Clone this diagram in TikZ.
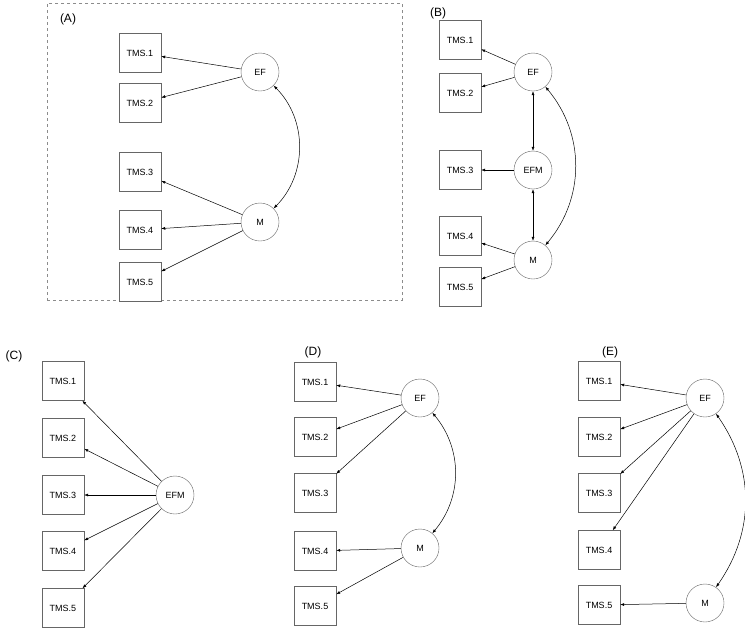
\documentclass[tikz,border=0pt]{standalone}
\usepackage{fontspec}
\setmainfont{Liberation Sans}
\usetikzlibrary{arrows.meta}
\begin{document}
\begin{tikzpicture}[x=1pt,y=-1pt,
  box/.style={draw=black!60,fill=white,minimum width=42pt,minimum height=39pt,inner sep=0pt,font=\fontsize{9}{10}\selectfont},
  lat/.style={draw=black!60,circle,fill=white,minimum size=38pt,inner sep=0pt,font=\fontsize{9}{10}\selectfont},
  ar/.style={-{Latex[length=4pt,width=3pt]},line width=0.5pt},
  dar/.style={{Latex[length=4pt,width=3pt]}-{Latex[length=4pt,width=3pt]},line width=0.5pt},
  lab/.style={font=\fontsize{12}{14}\selectfont}]
\useasboundingbox (0,0) rectangle (745,638);
\node[draw=black!45,dashed,line width=0.9pt,minimum width=355pt,minimum height=297pt] (frame) at (224.5,151.5) {};
% A
\node[lab] (la) at (68,19) {(A)};
\node[box] (a1) at (140,53) {TMS.1};
\node[box] (a2) at (140,103) {TMS.2};
\node[box] (a3) at (140,172) {TMS.3};
\node[box] (a4) at (140,230) {TMS.4};
\node[box] (a5) at (140,282) {TMS.5};
\node[lat] (aef) at (260,72) {EF};
\node[lat] (am) at (260,222) {M};
\draw[ar] (aef) -- (a1); \draw[ar] (aef) -- (a2);
\draw[ar] (am) -- (a3); \draw[ar] (am) -- (a4); \draw[ar] (am) -- (a5);
\draw[dar] (aef) to[bend left=45] (am);
% B
\node[lab] (lb) at (438,13) {(B)};
\node[box] (b1) at (460,40) {TMS.1};
\node[box] (b2) at (460,93) {TMS.2};
\node[box] (b3) at (460,170) {TMS.3};
\node[box] (b4) at (460,236) {TMS.4};
\node[box] (b5) at (460,287) {TMS.5};
\node[lat] (bef) at (533,72) {EF};
\node[lat] (befm) at (533,170) {EFM};
\node[lat] (bm) at (533,260) {M};
\draw[ar] (bef) -- (b1); \draw[ar] (bef) -- (b2);
\draw[ar] (befm) -- (b3);
\draw[ar] (bm) -- (b4); \draw[ar] (bm) -- (b5);
\draw[dar] (bef) -- (befm); \draw[dar] (befm) -- (bm);
\draw[dar] (bef) to[bend left=40] (bm);
% C
\node[lab] (lc) at (14,356) {(C)};
\node[box] (c1) at (63,381) {TMS.1};
\node[box] (c2) at (63,438) {TMS.2};
\node[box] (c3) at (63,495) {TMS.3};
\node[box] (c4) at (63,551) {TMS.4};
\node[box] (c5) at (63,608) {TMS.5};
\node[lat] (cefm) at (175,495) {EFM};
\foreach \i in {1,...,5} \draw[ar] (cefm) -- (c\i);
% D
\node[lab] (ld) at (313,352) {(D)};
\node[box] (d1) at (315,382) {TMS.1};
\node[box] (d2) at (315,437) {TMS.2};
\node[box] (d3) at (315,493) {TMS.3};
\node[box] (d4) at (315,551) {TMS.4};
\node[box] (d5) at (315,606) {TMS.5};
\node[lat] (def) at (420,398) {EF};
\node[lat] (dm) at (420,548) {M};
\draw[ar] (def) -- (d1); \draw[ar] (def) -- (d2); \draw[ar] (def) -- (d3);
\draw[ar] (dm) -- (d4); \draw[ar] (dm) -- (d5);
\draw[dar] (def) to[bend left=40] (dm);
% E
\node[lab] (le) at (610,352) {(E)};
\node[box] (e1) at (599,381) {TMS.1};
\node[box] (e2) at (599,437) {TMS.2};
\node[box] (e3) at (599,493) {TMS.3};
\node[box] (e4) at (599,550) {TMS.4};
\node[box] (e5) at (599,605) {TMS.5};
\node[lat] (eef) at (705,398) {EF};
\node[lat] (em) at (705,603) {M};
\foreach \i in {1,...,4} \draw[ar] (eef) -- (e\i);
\draw[ar] (em) -- (e5);
\draw[dar] (eef) to[bend left=35] (em);
\end{tikzpicture}
\end{document}
